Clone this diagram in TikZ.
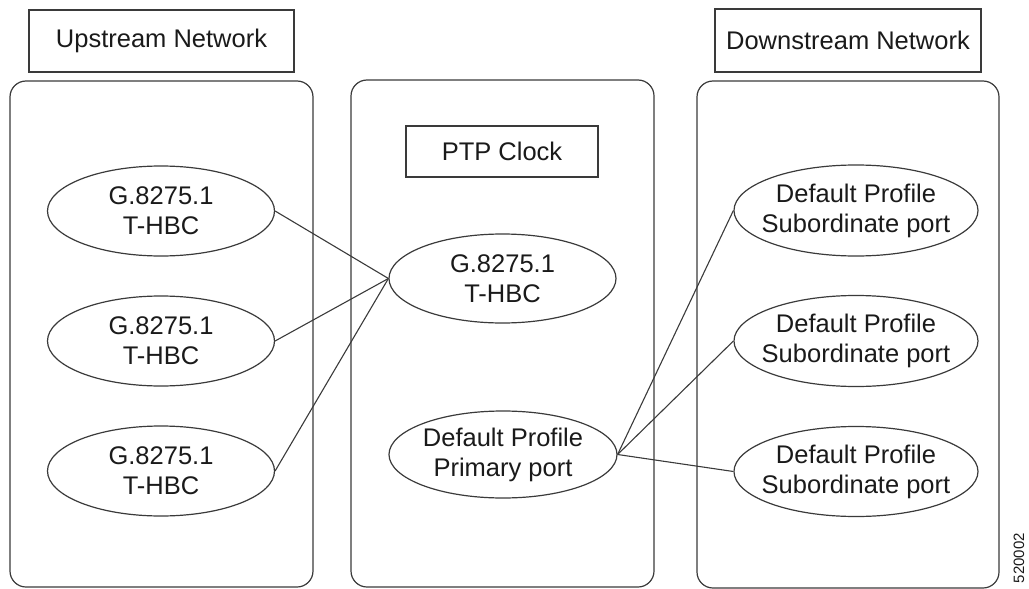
\documentclass[tikz,border=0pt]{standalone}
\usepackage{fontspec}
\setmainfont{Liberation Sans}
\usetikzlibrary{shapes.geometric}
\definecolor{linegray}{HTML}{3A3A3A}
\definecolor{textgray}{HTML}{1A1A1A}
\tikzset{
  base/.style={draw=linegray, line width=1.2pt},
  labelbox/.style={base, rectangle, inner sep=0pt, text=textgray, font=\fontsize{25.5}{30}\selectfont},
  panel/.style={base, rectangle, rounded corners=16pt, inner sep=0pt},
  oval/.style={base, ellipse, inner sep=0pt},
  ovaltext/.style={align=center, text=textgray, font=\fontsize{25.5}{30}\selectfont},
  link/.style={draw=linegray, line width=1.1pt}
}
\begin{document}
\begin{tikzpicture}[x=1pt,y=-1pt]
\useasboundingbox (0,0) rectangle (1029,589);
% panels
\node[panel, minimum width=303pt, minimum height=506pt] (upp) at (161.5,334) {};
\node[panel, minimum width=303pt, minimum height=507pt] (midp) at (502.5,333.5) {};
\node[panel, minimum width=302pt, minimum height=507pt] (downp) at (848,334.5) {};
% title boxes
\node[labelbox, minimum width=265pt, minimum height=62pt] (uplabel) at (161.5,41) {Upstream Network};
\node[labelbox, minimum width=266pt, minimum height=63pt] (downlabel) at (848,40.5) {Downstream Network};
\node[labelbox, minimum width=192pt, minimum height=51pt] (ptp) at (502,151.5) {PTP Clock};
% upstream ovals
\node[oval, minimum width=227pt, minimum height=90pt, label={[ovaltext]center:G.8275.1\\T-HBC}] (u1) at (161,211) {};
\node[oval, minimum width=227pt, minimum height=90pt, label={[ovaltext]center:G.8275.1\\T-HBC}] (u2) at (161,341) {};
\node[oval, minimum width=227pt, minimum height=90pt, label={[ovaltext]center:G.8275.1\\T-HBC}] (u3) at (161,471) {};
% middle ovals
\node[oval, minimum width=227pt, minimum height=89pt, label={[ovaltext]center:G.8275.1\\T-HBC}] (m1) at (502.5,278.5) {};
\node[oval, minimum width=228pt, minimum height=87pt, label={[ovaltext]center:Default Profile\\Primary port}] (m2) at (503,454.5) {};
% downstream ovals
\node[oval, minimum width=244pt, minimum height=91pt, label={[ovaltext]center:Default Profile\\Subordinate port}] (d1) at (856,210.5) {};
\node[oval, minimum width=244pt, minimum height=91pt, label={[ovaltext]center:Default Profile\\Subordinate port}] (d2) at (856,341) {};
\node[oval, minimum width=244pt, minimum height=90pt, label={[ovaltext]center:Default Profile\\Subordinate port}] (d3) at (856,471.5) {};
% connectors
\draw[link] (u1.east) -- (m1.west);
\draw[link] (u2.east) -- (m1.west);
\draw[link] (u3.east) -- (m1.west);
\draw[link] (m2.east) -- (d1.west);
\draw[link] (m2.east) -- (d2.west);
\draw[link] (m2.east) -- (d3.west);
% figure number
\node[rotate=90, text=textgray, font=\fontsize{15}{18}\selectfont, inner sep=0pt] (fignum) at (1019,558) {520002};
\end{tikzpicture}
\end{document}
